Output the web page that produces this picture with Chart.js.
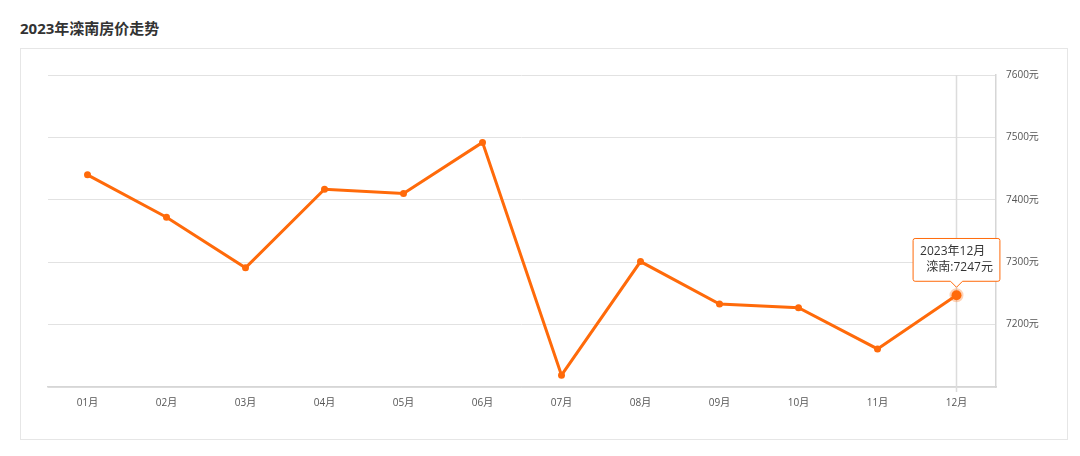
<!DOCTYPE html>
<html>
<head>
<meta charset="utf-8">
<script src="https://cdn.jsdelivr.net/npm/chart.js@4/dist/chart.umd.min.js"></script>
<style>
  body { margin: 0; background: #fff; font-family: "Open Sans", "Noto Sans CJK SC", sans-serif; }
  h3 { position: absolute; left: 20px; top: 17px; margin: 0; font-size: 15px; font-weight: bold; color: #333; }
  .box { position: absolute; left: 20px; top: 48px; width: 1046px; height: 390px; border: 1px solid #e6e6e6; }
</style>
</head>
<body>
<h3>2023年滦南房价走势</h3>
<div class="box"><canvas id="houseChart" width="1046" height="390"></canvas></div>
<script>
const months = ['01月', '02月', '03月', '04月', '05月', '06月', '07月', '08月', '09月', '10月', '11月', '12月'];
const prices = [7440, 7372, 7291, 7417, 7410, 7492, 7119, 7301, 7233, 7227, 7161, 7247];
const yTicks = [7100, 7200, 7300, 7400, 7500, 7600];
const seriesName = '滦南';
const orange = '#ff6a0a';
const font = '"Open Sans", "Noto Sans CJK SC", sans-serif';

// vertical hover line for the active month
const crossLine = {
  id: 'crossLine',
  beforeDatasetsDraw(chart) {
    const act = chart.getActiveElements();
    if (!act.length) return;
    const x = act[0].element.x;
    const ctx = chart.ctx;
    ctx.save();
    ctx.strokeStyle = '#dcdcdc';
    ctx.lineWidth = 1.5;
    ctx.beginPath();
    ctx.moveTo(x, chart.chartArea.top);
    ctx.lineTo(x, chart.chartArea.bottom + 5);
    ctx.stroke();
    ctx.restore();
  }
};

const ctx = document.getElementById('houseChart').getContext('2d');
const chart = new Chart(ctx, {
  type: 'line',
  data: {
    labels: months,
    datasets: [{
      label: seriesName,
      data: prices,
      borderColor: orange,
      backgroundColor: orange,
      borderWidth: 3,
      pointRadius: 3.5,
      pointBorderWidth: 0,
      pointHoverRadius: 5,
      pointHoverBorderWidth: 4,
      pointHoverBorderColor: 'rgba(255,106,10,0.3)',
      pointHoverBackgroundColor: orange,
      tension: 0
    }]
  },
  options: {
    responsive: false,
    animation: false,
    events: [],
    layout: { padding: { left: 27, top: 26, right: 0, bottom: 0 } },
    plugins: {
      legend: { display: false },
      tooltip: {
        backgroundColor: '#fff',
        borderColor: orange,
        borderWidth: 1,
        titleColor: '#333',
        bodyColor: '#333',
        titleFont: { family: font, size: 12, weight: 'normal' },
        bodyFont: { family: font, size: 12 },
        titleMarginBottom: 2,
        displayColors: false,
        cornerRadius: 2,
        padding: { left: 7, right: 7, top: 6, bottom: 6 },
        caretSize: 6,
        caretPadding: 8,
        yAlign: 'bottom',
        xAlign: 'center',
        callbacks: {
          title: items => '2023年' + items[0].label.replace(/^0/, ''),
          label: item => '  ' + seriesName + ':' + item.raw + '元'
        }
      }
    },
    scales: {
      x: {
        offset: true,
        grid: { display: false, drawTicks: true, tickLength: 5, color: '#ddd' },
        border: { color: '#d6d6d6', width: 1.5 },
        ticks: { color: '#555', font: { family: font, size: 10 }, padding: 5 },
        afterFit: s => { s.height = 52; }
      },
      y: {
        position: 'right',
        min: 7100,
        max: 7600,
        afterBuildTicks: s => { s.ticks = yTicks.map(v => ({ value: v })); },
        grid: { color: '#e2e2e2', drawTicks: false, lineWidth: 1 },
        border: { color: '#d6d6d6', width: 1.5 },
        ticks: {
          color: '#555',
          font: { family: font, size: 10 },
          padding: 10,
          callback: v => v === 7100 ? '' : v + '元'
        },
        afterFit: s => { s.width = 71; }
      }
    }
  },
  plugins: [crossLine]
});

const active = [{ datasetIndex: 0, index: 11 }];
chart.setActiveElements(active);
const pt = chart.getDatasetMeta(0).data[11];
chart.tooltip.setActiveElements(active, { x: pt.x, y: pt.y });
chart.update();
</script>
</body>
</html>
